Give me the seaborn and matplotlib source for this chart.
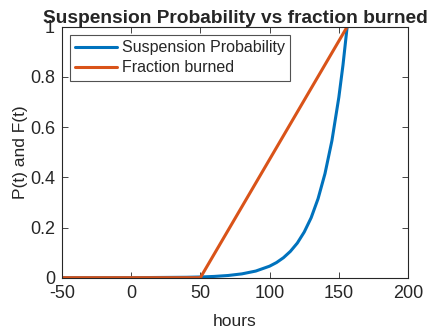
import numpy as np
import pandas as pd
import matplotlib
matplotlib.use("Agg")
import matplotlib.pyplot as plt
import seaborn as sns
from matplotlib.ticker import FormatStrFormatter

# Data
hours_p = [-50, 0, 40, 50, 60, 70, 80, 90, 100, 105, 110, 115, 120, 125,
           130, 135, 140, 145, 150, 153, 156]
susp_prob = [0.0000, 0.0002, 0.0017, 0.0029, 0.0051, 0.0088, 0.0153, 0.0265,
             0.046, 0.0605, 0.0797, 0.105, 0.138, 0.182, 0.239, 0.315, 0.415,
             0.546, 0.719, 0.848, 1.0]
hours_f = [-50, 50, 156]
frac_burned = [0.0, 0.0, 1.0]

x_ticks = [-50, 0, 50, 100, 150, 200]
y_ticks = [0, 0.2, 0.4, 0.6, 0.8, 1]

sns.set_style("white")
plt.rcParams['font.family'] = ['Liberation Sans', 'DejaVu Sans']
plt.rcParams['axes.unicode_minus'] = False

fig = plt.figure(figsize=(4.3, 3.31), dpi=100)
ax = fig.add_axes([0.144, 0.161, 0.805, 0.758])

df_p = pd.DataFrame({"hours": hours_p, "val": susp_prob})
df_f = pd.DataFrame({"hours": hours_f, "val": frac_burned})
sns.lineplot(data=df_p, x="hours", y="val", ax=ax, color="#0072BD", lw=2.2,
             label="Suspension Probability")
sns.lineplot(data=df_f, x="hours", y="val", ax=ax, color="#D95319", lw=2.2,
             label="Fraction burned")

ax.set_xlim(-50, 200)
ax.set_ylim(0, 1)
ax.set_xticks(x_ticks)
ax.set_yticks(y_ticks)
ax.yaxis.set_major_formatter(FormatStrFormatter('%g'))
gray = "#262626"
for s in ax.spines.values():
    s.set_color(gray)
    s.set_linewidth(0.8)
    s.set_visible(True)
ax.tick_params(direction='in', length=4, width=0.6, colors=gray,
               labelsize=13, top=True, right=True, bottom=True, left=True,
               labeltop=False, labelright=False)
ax.tick_params(axis='x', pad=5)
ax.tick_params(axis='y', pad=5)
ax.set_xlabel("hours", fontsize=12.5, color=gray, labelpad=9)
ax.set_ylabel("P(t) and F(t)", fontsize=12.5, color=gray, labelpad=1)
ax.set_title("Suspension Probability vs fraction burned", fontsize=13.8,
             fontweight='bold', pad=3)
leg = ax.legend(loc='upper left', fontsize=11.5, frameon=True, fancybox=False,
                edgecolor=gray, handlelength=2.6, handletextpad=0.3,
                borderaxespad=0.5, borderpad=0.35, labelspacing=0.3)
leg.get_frame().set_linewidth(0.8)

fig.savefig("out.png", dpi=100)
